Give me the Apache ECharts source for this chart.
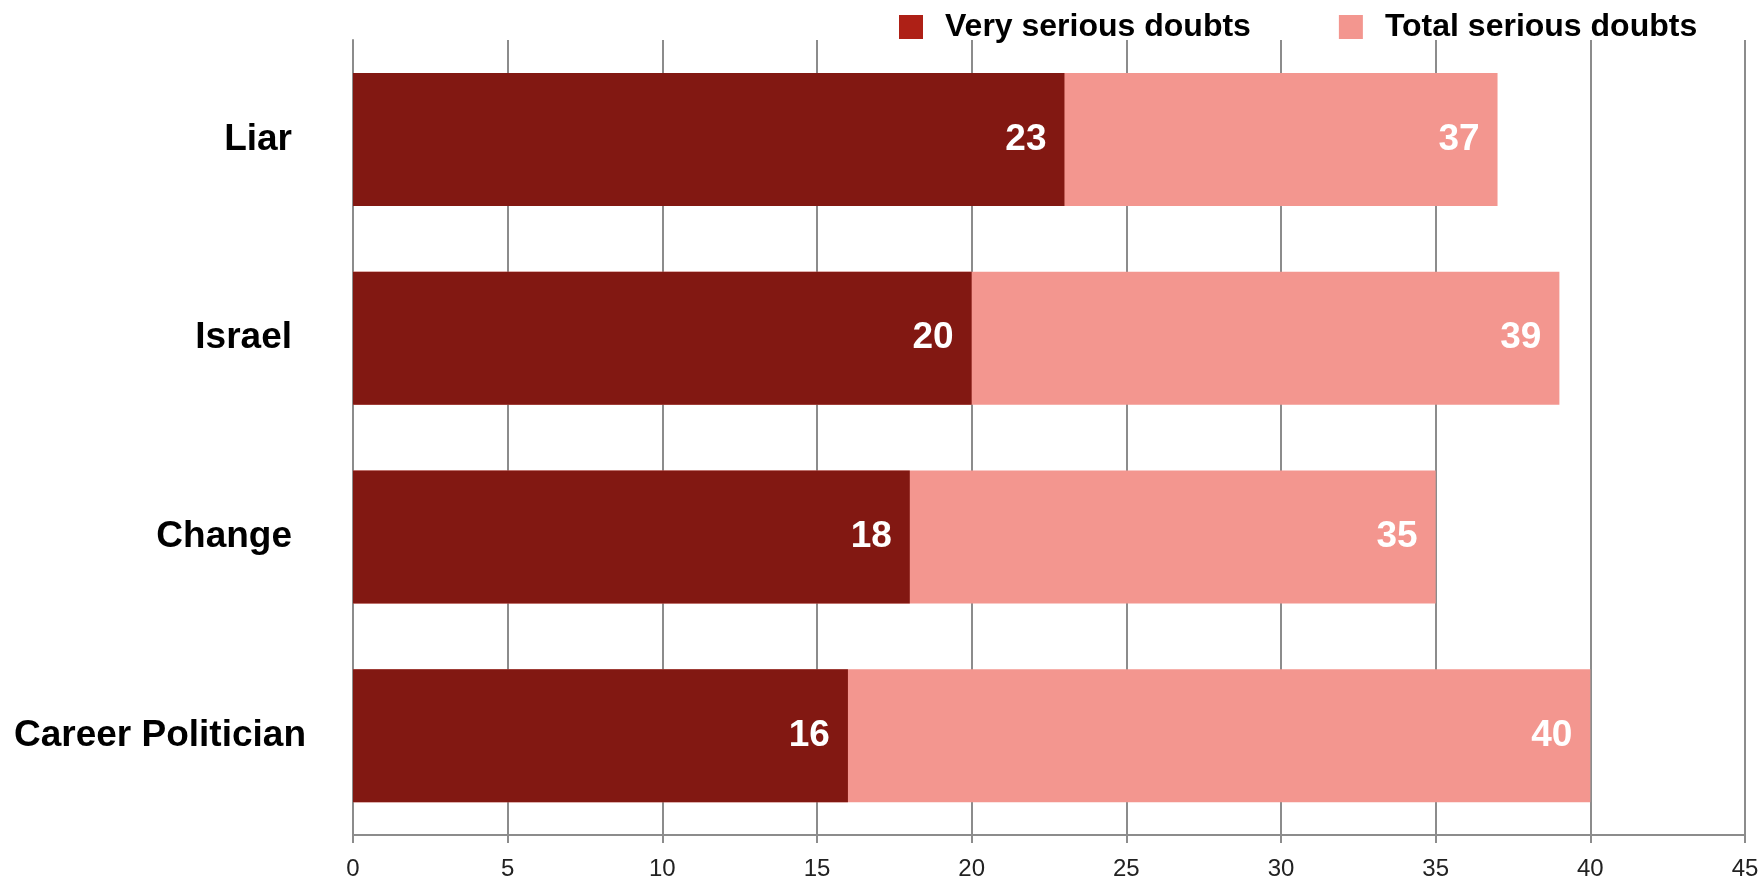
<!DOCTYPE html>
<html>
<head>
<meta charset="utf-8">
<script src="https://cdn.jsdelivr.net/npm/echarts@6/dist/echarts.min.js"></script>
<style>
html,body{margin:0;padding:0;background:#fff;}
#chart{width:1764px;height:882px;}
</style>
</head>
<body>
<div id="chart"></div>
<script>
const categories = ['Liar', 'Israel', 'Change', 'Career Politician'];
const verySerious = [23, 20, 18, 16];
const totalSerious = [37, 39, 35, 40];
const seriesNames = ['Very serious doubts', 'Total serious doubts'];

const FONT = '"Liberation Sans", Arial, sans-serif';
const GRID_COLOR = '#8c8c8c';

const chart = echarts.init(document.getElementById('chart'), null, {renderer: 'canvas'});
chart.setOption({
  animation: false,
  backgroundColor: '#ffffff',
  textStyle: {fontFamily: FONT},
  legend: {
    left: 894,
    top: 6,
    itemWidth: 24,
    itemHeight: 24,
    itemGap: 88,
    icon: 'rect',
    textStyle: {fontFamily: FONT, fontSize: 32, fontWeight: 'bold', color: '#000', padding: [0, 0, 0, 17]},
    data: [
      {name: seriesNames[0], itemStyle: {color: '#AE2016'}},
      {name: seriesNames[1], itemStyle: {color: '#F3968F'}}
    ]
  },
  grid: {left: 353, right: 19, top: 40, bottom: 47, containLabel: false},
  xAxis: {
    type: 'value',
    min: 0,
    max: 45,
    interval: 5,
    axisLine: {show: true, lineStyle: {color: GRID_COLOR, width: 2}},
    axisTick: {show: true, length: 8, lineStyle: {color: GRID_COLOR, width: 2}},
    splitLine: {show: true, lineStyle: {color: GRID_COLOR, width: 2}},
    axisLabel: {fontFamily: FONT, fontSize: 24, color: '#222', margin: 22}
  },
  yAxis: {
    type: 'category',
    inverse: true,
    data: categories,
    axisLine: {show: true, lineStyle: {color: GRID_COLOR, width: 2}},
    axisTick: {show: false},
    axisLabel: {
      fontFamily: FONT, fontSize: 37, fontWeight: 'bold', color: '#000', margin: 47,
      formatter: function (v) { return v.length > 10 ? v : '{p|' + v + '}'; },
      rich: {p: {fontFamily: FONT, fontSize: 37, fontWeight: 'bold', color: '#000', padding: [0, 14, 0, 0]}}
    }
  },
  series: [
    {
      name: seriesNames[1],
      type: 'bar',
      data: totalSerious,
      barWidth: 133,
      barGap: '-100%',
      z: 2,
      itemStyle: {color: '#F3968F'},
      label: {show: true, position: 'insideRight', distance: 18, color: '#fff', fontFamily: FONT, fontSize: 37, fontWeight: 'bold'}
    },
    {
      name: seriesNames[0],
      type: 'bar',
      data: verySerious,
      barWidth: 133,
      barGap: '-100%',
      z: 3,
      itemStyle: {color: '#821812'},
      label: {show: true, position: 'insideRight', distance: 18, color: '#fff', fontFamily: FONT, fontSize: 37, fontWeight: 'bold'}
    }
  ]
});
</script>
</body>
</html>
